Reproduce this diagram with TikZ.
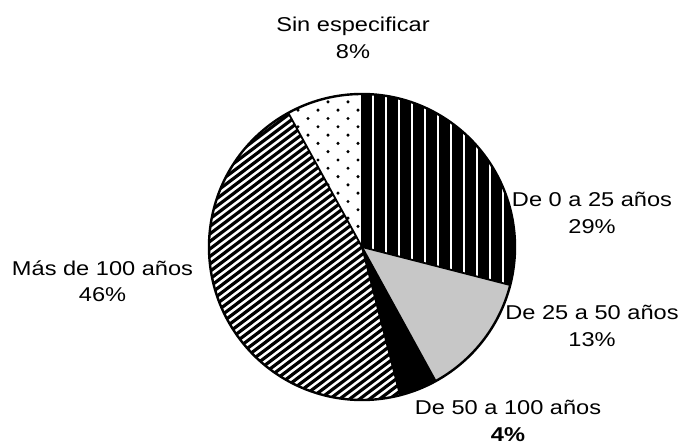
\documentclass[tikz,border=0pt]{standalone}
\usepackage{fontspec}
\setmainfont{Liberation Sans}
\begin{document}
\begin{tikzpicture}[x=1pt,y=1pt,
  lbl/.style={align=center, font=\fontsize{20}{26.6}\selectfont, xscale=1.18, inner sep=0pt},
  sliceedge/.style={draw=black, line width=1.8pt, line cap=round},
  rim/.style={draw=black, line width=2.4pt},
  whitestripe/.style={draw=white, line width=2.8pt},
  hatchline/.style={draw=black, line width=3.2pt},
]
\useasboundingbox (0,0) rectangle (691,446);
\coordinate (c) at (362,199);
\def\R{153}
% De 0 a 25 anos: black with thin white vertical stripes
\begin{scope}
  \clip (c) -- ++(90:\R) arc[start angle=90,end angle=-14.4,radius=\R] -- cycle;
  \fill[black] (c) -- ++(90:\R) arc[start angle=90,end angle=-14.4,radius=\R] -- cycle;
  \foreach \k in {0,...,12} { \draw[whitestripe] ({373+\k*13},30) -- ++(0,380); }
\end{scope}
% De 25 a 50 anos: gray
\fill[black!22] (c) -- ++(-14.4:\R) arc[start angle=-14.4,end angle=-61.2,radius=\R] -- cycle;
% De 50 a 100 anos: black
\fill[black] (c) -- ++(-61.2:\R) arc[start angle=-61.2,end angle=-75.6,radius=\R] -- cycle;
% Mas de 100 anos: diagonal hatch
\begin{scope}
  \clip (c) -- ++(118.8:\R) arc[start angle=118.8,end angle=284.4,radius=\R] -- cycle;
  \foreach \k in {-30,...,30} {
    \draw[hatchline, shift={(c)}] ({-sin(37)*\k*6-250*cos(37)},{cos(37)*\k*6-250*sin(37)}) -- ++(37:500);
  }
\end{scope}
% Sin especificar: staggered dots
\begin{scope}
  \clip (c) -- ++(90:\R) arc[start angle=90,end angle=118.8,radius=\R] -- cycle;
  \foreach \i in {0,...,20} {
    \foreach \j in {0,...,5} {
      \pgfmathsetmacro\dx{278+\j*20+10*mod(\i,2)}
      \pgfmathsetmacro\dy{203+\i*8.3}
      \fill[black] (\dx,\dy) circle[radius=1.7];
    }
  }
\end{scope}
% edges
\draw[sliceedge] (c) -- ++(90:\R);
\draw[sliceedge] (c) -- ++(-14.4:\R);
\draw[sliceedge] (c) -- ++(-61.2:\R);
\draw[sliceedge] (c) -- ++(-75.6:\R);
\draw[sliceedge] (c) -- ++(118.8:\R);
\draw[rim] (c) circle[radius=\R];
% labels
\node[lbl] (lsin) at (353,408.1) {Sin especificar\\8\%};
\node[lbl] (lmas) at (102.5,164.8) {Más de 100 años\\46\%};
\node[lbl] (l0) at (592,233.1) {De 0 a 25 años\\29\%};
\node[lbl] (l25) at (592,120.1) {De 25 a 50 años\\13\%};
\node[lbl] (l50) at (508,25) {De 50 a 100 años\\\textbf{4\%}};
\end{tikzpicture}
\end{document}
